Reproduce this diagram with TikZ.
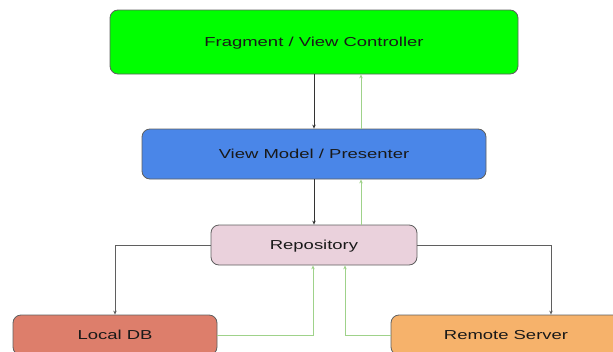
\documentclass[tikz,border=0pt]{standalone}
\usepackage{fontspec}
\setmainfont{Liberation Sans}[FakeStretch=1.42]
\usetikzlibrary{arrows.meta}

\definecolor{ctrlgreen}{HTML}{00FF00}
\definecolor{vmblue}{HTML}{4A86E8}
\definecolor{repopink}{HTML}{EAD1DC}
\definecolor{dbred}{HTML}{DD7E6B}
\definecolor{srvorange}{HTML}{F6B26B}
\definecolor{edgegray}{HTML}{5F5F5F}
\definecolor{backgreen}{HTML}{9FD28A}

\tikzset{
  layer/.style={draw=edgegray, line width=0.8pt, rounded corners=8pt,
    inner sep=0pt, text=black!90, text height=9.5pt, text depth=0pt,
    font=\fontsize{13}{15}\selectfont},
  down/.style={draw=black!80, line width=0.7pt, -{Stealth[length=4pt,width=3.5pt]}},
  back/.style={draw=backgreen, line width=0.8pt, -{Stealth[length=4pt,width=3.5pt]}},
  fork/.style={draw=edgegray, line width=0.8pt, -{Stealth[length=4pt,width=3.5pt]}}
}

\begin{document}
\begin{tikzpicture}[x=1pt, y=-1pt]
\useasboundingbox (0,0) rectangle (613,351);
\clip (0,0) rectangle (613,351);

% the layers, top to bottom
\node[layer, fill=ctrlgreen, minimum width=408pt, minimum height=64pt] (ctrl) at (314,42) {Fragment / View Controller};
\node[layer, fill=vmblue, minimum width=344pt, minimum height=50pt] (vm) at (314,154) {View Model / Presenter};
\node[layer, fill=repopink, minimum width=206pt, minimum height=40pt] (repo) at (314,245) {Repository};
\node[layer, fill=dbred, minimum width=204pt, minimum height=40pt] (local) at (115,335) {Local DB};
\node[layer, fill=srvorange, minimum width=230pt, minimum height=40pt] (remote) at (506,335) {Remote Server};

% calls going down
\draw[down] (ctrl.south) -- (vm.north);
\draw[down] (vm.south) -- (repo.north);
\draw[fork] (repo.west) -| (local.north);
\draw[fork] (repo.east) -| ([xshift=45pt]remote.north);

% data coming back up
\draw[back] ([xshift=47pt]vm.north) -- ([xshift=47pt]ctrl.south);
\draw[back] ([xshift=47pt]repo.north) -- ([xshift=47pt]vm.south);
\draw[back] (local.east) -| ([xshift=-1pt]repo.south);
\draw[back] (remote.west) -| ([xshift=31pt]repo.south);
\end{tikzpicture}
\end{document}
